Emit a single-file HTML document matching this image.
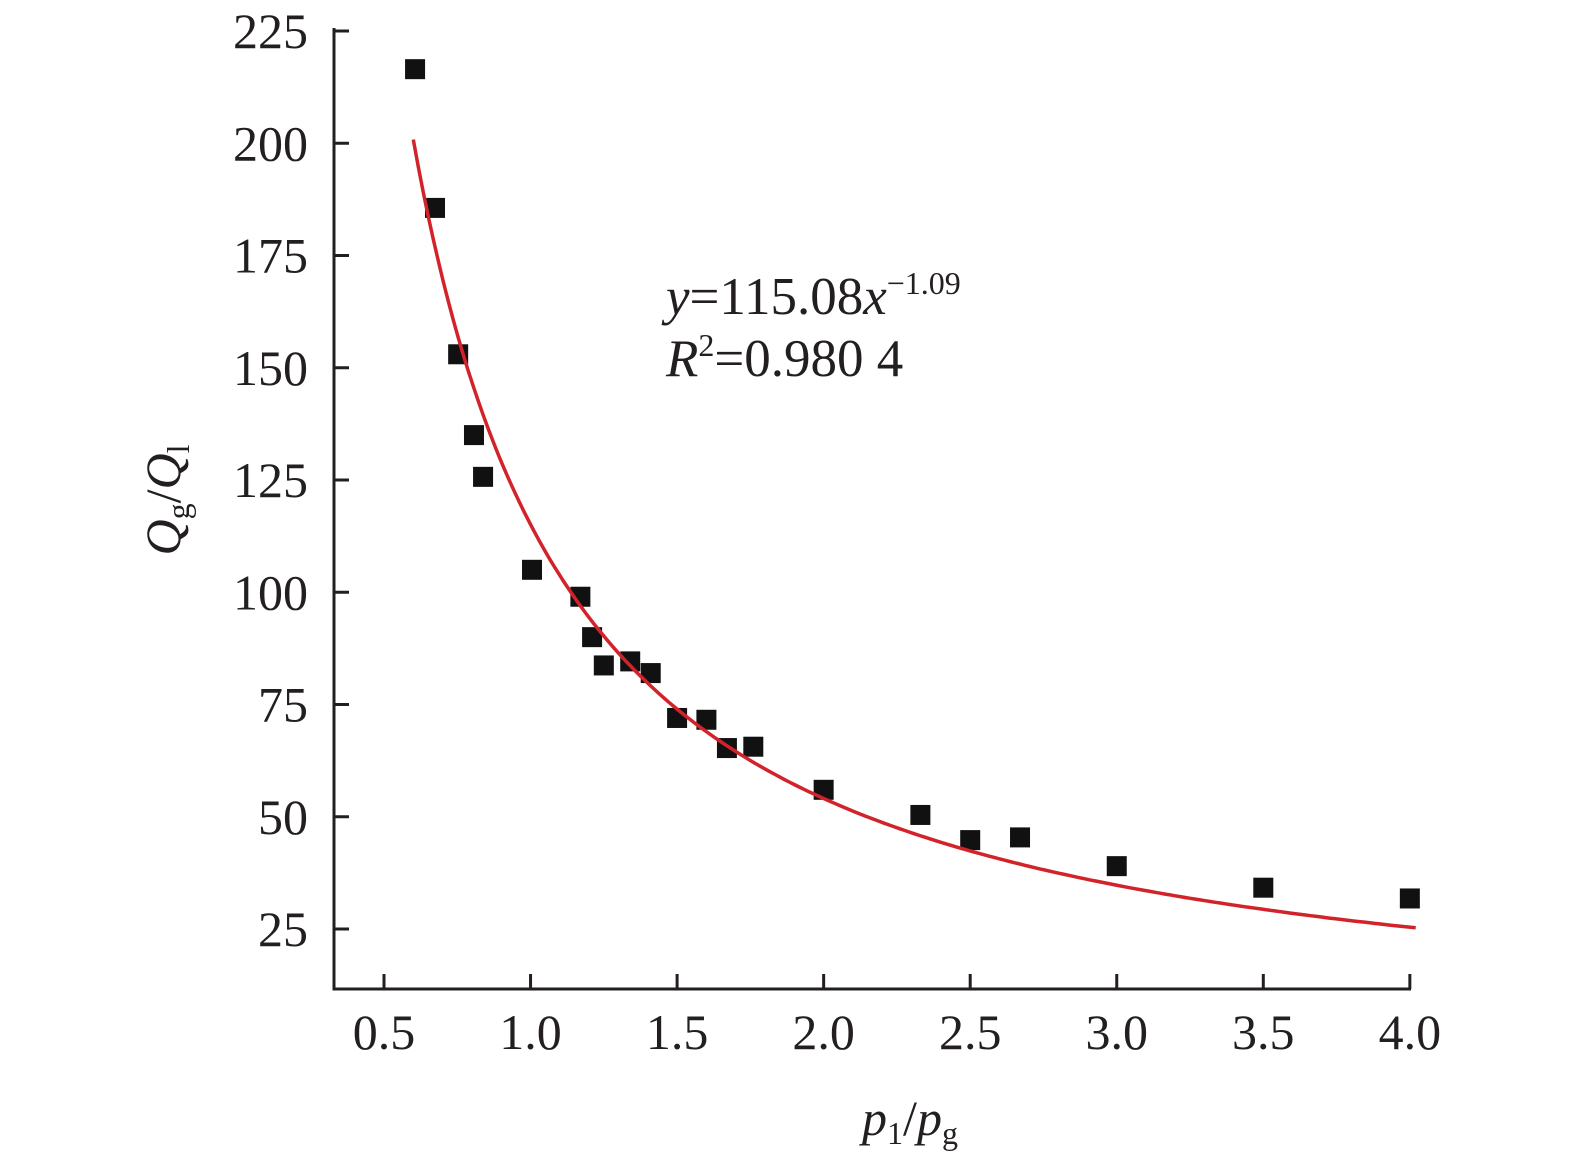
<!DOCTYPE html>
<html><head><meta charset="utf-8"><style>
body{margin:0;background:#fff}
svg text{font-family:"Liberation Serif",serif;fill:#231f20}
</style></head><body>
<svg width="1575" height="1158" id="c">
<g id="axes"></g>
<g id="marks"></g>
<text x="666" y="314" font-size="53"><tspan font-style="italic">y</tspan>=115.08<tspan font-style="italic">x</tspan><tspan font-size="32" dy="-20">−1.09</tspan></text>
<text x="666" y="376" font-size="53"><tspan font-style="italic">R</tspan><tspan font-size="32" dy="-20">2</tspan><tspan dy="20">=0.980 4</tspan></text>
<text x="910" y="1135" font-size="50" text-anchor="middle"><tspan font-style="italic">p</tspan><tspan font-size="32" dy="9">1</tspan><tspan dy="-9">/</tspan><tspan font-style="italic">p</tspan><tspan font-size="32" dy="9">g</tspan></text>
<text transform="translate(180,500) rotate(-90)" font-size="50" text-anchor="middle"><tspan font-style="italic">Q</tspan><tspan font-size="32" dy="9">g</tspan><tspan dy="-9">/</tspan><tspan font-style="italic">Q</tspan><tspan font-size="32" dy="9">l</tspan></text>
</svg>
<script>
const xTicks=[0.5,1.0,1.5,2.0,2.5,3.0,3.5,4.0];
const yTicks=[25,50,75,100,125,150,175,200,225];
const xs=[0.606,0.674,0.753,0.807,0.838,1.005,1.17,1.21,1.25,1.34,1.41,1.5,1.6,1.67,1.76,2.0,2.33,2.5,2.67,3.0,3.5,4.0];
const ys=[216.5,185.6,153,135,125.7,105,99,90,83.7,84.6,82,72,71.6,65.3,65.6,56,50.4,44.8,45.4,39,34.2,31.8];
const fitA=115.08, fitB=-1.09, fitX0=0.6, fitX1=4.02;
const X=v=>384+(v-0.5)*293.1;
const Y=v=>929-(v-25)*4.49;
const NS="http://www.w3.org/2000/svg";
function mk(t,a,p){const e=document.createElementNS(NS,t);for(const k in a)e.setAttribute(k,a[k]);p.appendChild(e);return e;}
const ax=document.getElementById('axes');
let e=mk('path',{d:'M334,28V989H1411',fill:'none',stroke:'#231f20','stroke-width':3},ax);


xTicks.forEach(t=>{
 let l=mk('line',{x1:X(t),x2:X(t),y1:989,y2:974,stroke:'#231f20','stroke-width':3},ax);
 
 
 let tx=mk('text',{x:X(t),y:1049,'font-size':50,'text-anchor':'middle'},ax);tx.textContent=t.toFixed(1);
 
 
});
yTicks.forEach(t=>{
 let l=mk('line',{x1:334,x2:349,y1:Y(t),y2:Y(t),stroke:'#231f20','stroke-width':3},ax);
 
 
 let tx=mk('text',{x:308,y:Y(t)+17,'font-size':50,'text-anchor':'end'},ax);tx.textContent=t;
 
 
});
const mg=document.getElementById('marks');
xs.forEach((v,i)=>{
 let r=mk('rect',{x:X(v)-10,y:Y(ys[i])-10,width:20,height:20,fill:'#111'},mg);
 
 
});
let d='';for(let i=0;i<=200;i++){const x=fitX0+(fitX1-fitX0)*i/200;d+=(i?'L':'M')+X(x).toFixed(1)+','+Y(fitA*Math.pow(x,fitB)).toFixed(1);}
let c=mk('path',{d:d,fill:'none',stroke:'#d2232a','stroke-width':3.5},document.getElementById('c'));


</script>
</body></html>
